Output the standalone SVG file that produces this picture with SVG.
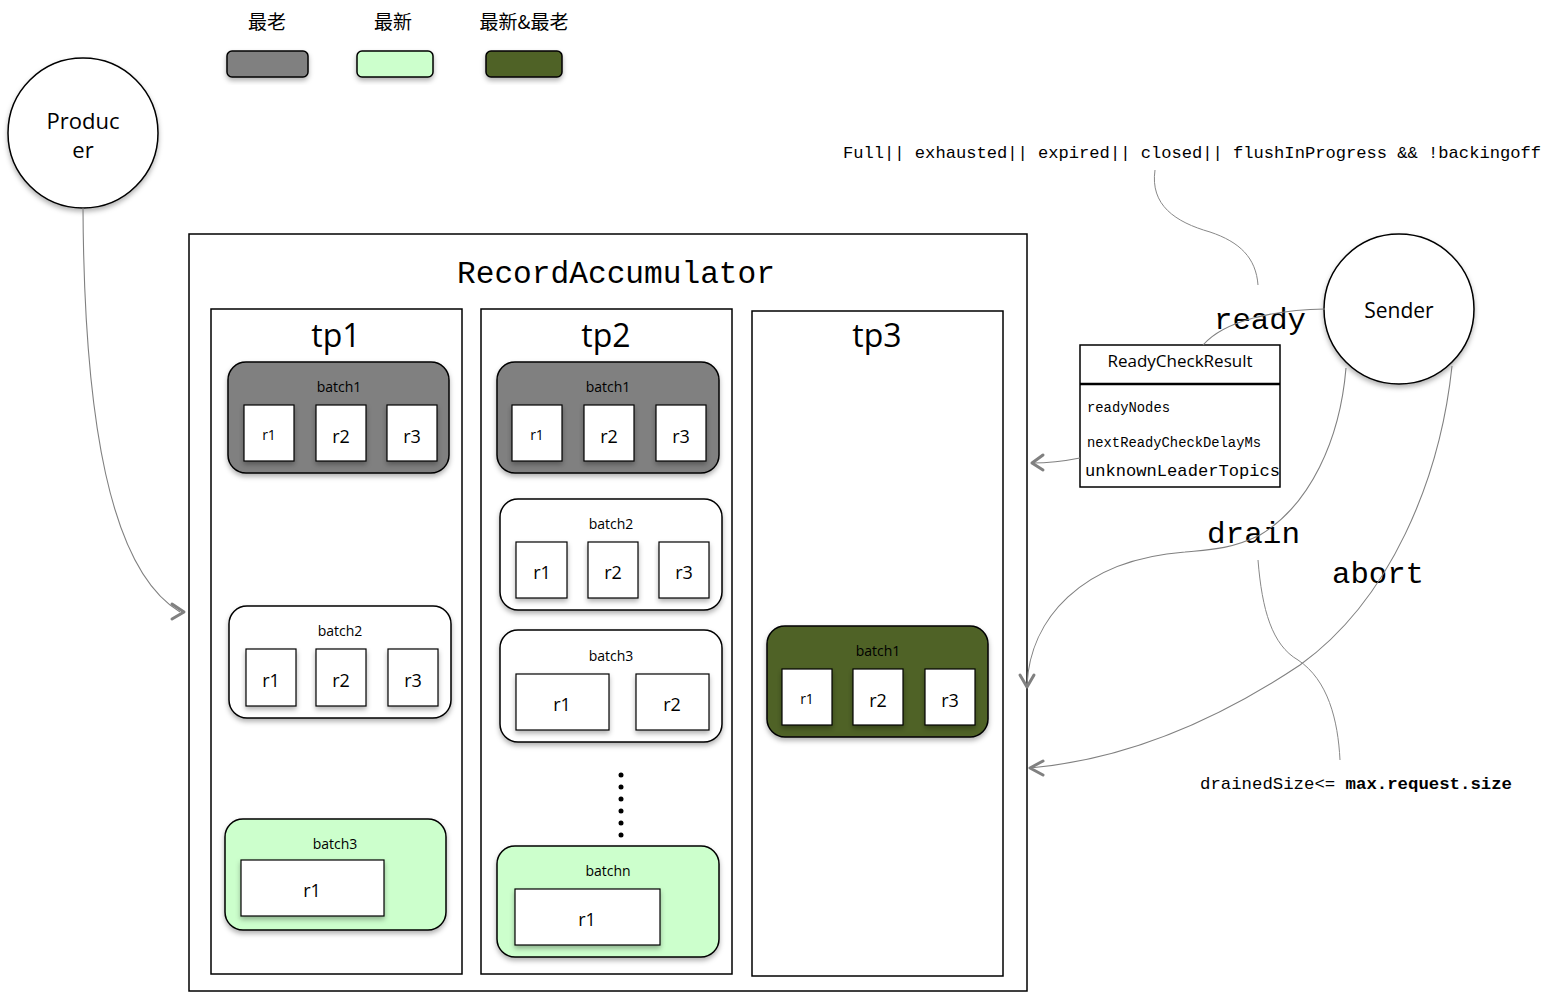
<svg xmlns="http://www.w3.org/2000/svg" width="1556" height="993" viewBox="0 0 1556 993">
<style>
.sans{font-family:"Open Sans","Noto Sans","Liberation Sans",sans-serif;fill:#000}
.mono{font-family:"Liberation Mono","DejaVu Sans Mono",monospace;fill:#000}
.cjk{font-family:"Noto Sans CJK SC","Noto Sans",sans-serif;fill:#000}
.box{stroke:#000;stroke-width:1.5}
.rec{fill:#fff;stroke:#000;stroke-width:1.2;filter:url(#sh)}
.batch{stroke:#000;stroke-width:1.5;filter:url(#sh)}
.conn{fill:none;stroke:#808080;stroke-width:1.1}
.arr{fill:none;stroke:#808080;stroke-width:3;stroke-linecap:round;stroke-linejoin:round}
.note{fill:none;stroke:#888;stroke-width:1}
</style>
<defs>
<filter id="sh" x="-10%" y="-10%" width="130%" height="140%">
<feDropShadow dx="0" dy="3" stdDeviation="2.5" flood-color="#000" flood-opacity="0.3"/>
</filter>
</defs>
<rect width="1556" height="993" fill="#fff"/>

<g id="legend">
<text class="cjk" x="267" y="29" font-size="19" text-anchor="middle">最老</text>
<text class="cjk" x="393" y="29" font-size="19" text-anchor="middle">最新</text>
<text class="cjk" x="524" y="29" font-size="19" text-anchor="middle">最新&amp;最老</text>
<rect class="batch" x="227" y="51" width="81" height="26" rx="5" fill="#808080"/>
<rect class="batch" x="357" y="51" width="76" height="26" rx="5" fill="#ccffcc"/>
<rect class="batch" x="486" y="51" width="76" height="26" rx="5" fill="#4f6228"/>
</g>

<g id="producer">
<circle cx="83" cy="133" r="75" fill="#fff" stroke="#000" stroke-width="1.5" filter="url(#sh)"/>
<text class="sans" x="83" y="129" font-size="22" text-anchor="middle">Produc</text>
<text class="sans" x="83" y="158" font-size="22" text-anchor="middle">er</text>
</g>

<g id="sender">
<circle cx="1399" cy="309" r="75" fill="#fff" stroke="#000" stroke-width="1.5" filter="url(#sh)"/>
<text class="sans" x="1399" y="318" font-size="21" text-anchor="middle">Sender</text>
</g>

<g id="accumulator">
<rect x="189" y="234" width="838" height="757" fill="#fff" class="box"/>
<text class="mono" x="457" y="283" font-size="31" textLength="318" lengthAdjust="spacingAndGlyphs">RecordAccumulator</text>
</g>

<g id="tp1">
<rect x="211" y="309" width="251" height="665" fill="#fff" class="box"/>
<text class="sans" x="336" y="347" font-size="32" text-anchor="middle">tp1</text>
</g>
<g id="tp2">
<rect x="481" y="309" width="251" height="665" fill="#fff" class="box"/>
<text class="sans" x="606" y="347" font-size="32" text-anchor="middle">tp2</text>
</g>
<g id="tp3">
<rect x="752" y="311" width="251" height="665" fill="#fff" class="box"/>
<text class="sans" x="877" y="347" font-size="32" text-anchor="middle">tp3</text>
</g>

<g id="tp1-batch1">
<rect class="batch" x="228" y="362" width="221" height="111" rx="18" fill="#808080"/>
<text class="sans" x="339" y="392" font-size="14" text-anchor="middle">batch1</text>
<rect class="rec" x="244" y="405" width="50" height="56"/>
<rect class="rec" x="316" y="405" width="50" height="56"/>
<rect class="rec" x="387" y="405" width="50" height="56"/>
<text class="sans" x="269" y="440" font-size="14" text-anchor="middle">r1</text>
<text class="sans" x="341" y="443" font-size="18" text-anchor="middle">r2</text>
<text class="sans" x="412" y="443" font-size="18" text-anchor="middle">r3</text>
</g>
<g id="tp1-batch2">
<rect class="batch" x="229" y="606" width="222" height="112" rx="18" fill="#fff"/>
<text class="sans" x="340" y="636" font-size="14" text-anchor="middle">batch2</text>
<rect class="rec" x="246" y="649" width="50" height="57"/>
<rect class="rec" x="316" y="649" width="50" height="57"/>
<rect class="rec" x="388" y="649" width="50" height="57"/>
<text class="sans" x="271" y="687" font-size="18" text-anchor="middle">r1</text>
<text class="sans" x="341" y="687" font-size="18" text-anchor="middle">r2</text>
<text class="sans" x="413" y="687" font-size="18" text-anchor="middle">r3</text>
</g>
<g id="tp1-batch3">
<rect class="batch" x="225" y="819" width="221" height="111" rx="18" fill="#ccffcc"/>
<text class="sans" x="335" y="849" font-size="14" text-anchor="middle">batch3</text>
<rect class="rec" x="241" y="860" width="143" height="56"/>
<text class="sans" x="312" y="897" font-size="18" text-anchor="middle">r1</text>
</g>

<g id="tp2-batch1">
<rect class="batch" x="497" y="362" width="222" height="111" rx="18" fill="#808080"/>
<text class="sans" x="608" y="392" font-size="14" text-anchor="middle">batch1</text>
<rect class="rec" x="512" y="405" width="50" height="56"/>
<rect class="rec" x="584" y="405" width="50" height="56"/>
<rect class="rec" x="656" y="405" width="50" height="56"/>
<text class="sans" x="537" y="440" font-size="14" text-anchor="middle">r1</text>
<text class="sans" x="609" y="443" font-size="18" text-anchor="middle">r2</text>
<text class="sans" x="681" y="443" font-size="18" text-anchor="middle">r3</text>
</g>
<g id="tp2-batch2">
<rect class="batch" x="500" y="499" width="222" height="111" rx="18" fill="#fff"/>
<text class="sans" x="611" y="529" font-size="14" text-anchor="middle">batch2</text>
<rect class="rec" x="516" y="542" width="51" height="56"/>
<rect class="rec" x="588" y="542" width="50" height="56"/>
<rect class="rec" x="659" y="542" width="50" height="56"/>
<text class="sans" x="542" y="579" font-size="18" text-anchor="middle">r1</text>
<text class="sans" x="613" y="579" font-size="18" text-anchor="middle">r2</text>
<text class="sans" x="684" y="579" font-size="18" text-anchor="middle">r3</text>
</g>
<g id="tp2-batch3">
<rect class="batch" x="500" y="630" width="222" height="112" rx="18" fill="#fff"/>
<text class="sans" x="611" y="661" font-size="14" text-anchor="middle">batch3</text>
<rect class="rec" x="516" y="674" width="93" height="56"/>
<rect class="rec" x="636" y="674" width="73" height="56"/>
<text class="sans" x="562" y="711" font-size="18" text-anchor="middle">r1</text>
<text class="sans" x="672" y="711" font-size="18" text-anchor="middle">r2</text>
</g>
<g id="tp2-dots" fill="#000">
<circle cx="621" cy="775" r="2.5"/>
<circle cx="621" cy="787" r="2.5"/>
<circle cx="621" cy="799" r="2.5"/>
<circle cx="621" cy="811" r="2.5"/>
<circle cx="621" cy="823" r="2.5"/>
<circle cx="621" cy="835" r="2.5"/>
</g>
<g id="tp2-batchn">
<rect class="batch" x="497" y="846" width="222" height="111" rx="18" fill="#ccffcc"/>
<text class="sans" x="608" y="876" font-size="14" text-anchor="middle">batchn</text>
<rect class="rec" x="515" y="889" width="145" height="56"/>
<text class="sans" x="587" y="926" font-size="18" text-anchor="middle">r1</text>
</g>

<g id="tp3-batch1">
<rect class="batch" x="767" y="626" width="221" height="111" rx="18" fill="#4f6228"/>
<text class="sans" x="878" y="656" font-size="14" text-anchor="middle">batch1</text>
<rect class="rec" x="782" y="669" width="50" height="56"/>
<rect class="rec" x="853" y="669" width="50" height="56"/>
<rect class="rec" x="925" y="669" width="50" height="56"/>
<text class="sans" x="807" y="704" font-size="14" text-anchor="middle">r1</text>
<text class="sans" x="878" y="707" font-size="18" text-anchor="middle">r2</text>
<text class="sans" x="950" y="707" font-size="18" text-anchor="middle">r3</text>
</g>

<g id="readycheckresult">
<rect x="1080" y="345" width="200" height="142" fill="#fff" stroke="#000" stroke-width="1.5"/>
<line x1="1080" y1="384" x2="1280" y2="384" stroke="#000" stroke-width="2.5"/>
<text class="sans" x="1180" y="367" font-size="17" text-anchor="middle">ReadyCheckResult</text>
<text class="mono" x="1087" y="412" font-size="14" textLength="83" lengthAdjust="spacingAndGlyphs">readyNodes</text>
<text class="mono" x="1087" y="447" font-size="14" textLength="174" lengthAdjust="spacingAndGlyphs">nextReadyCheckDelayMs</text>
<text class="mono" x="1085" y="476" font-size="17" textLength="195" lengthAdjust="spacingAndGlyphs">unknownLeaderTopics</text>
</g>

<g id="labels">
<text class="mono" x="843" y="158" font-size="16.4" textLength="698" lengthAdjust="spacingAndGlyphs">Full|| exhausted|| expired|| closed|| flushInProgress &amp;&amp; !backingoff</text>
<text class="mono" x="1214" y="329" font-size="30" textLength="92" lengthAdjust="spacingAndGlyphs">ready</text>
<text class="mono" x="1207" y="543" font-size="30" textLength="93" lengthAdjust="spacingAndGlyphs">drain</text>
<text class="mono" x="1332" y="583" font-size="30" textLength="92" lengthAdjust="spacingAndGlyphs">abort</text>
<text class="mono" x="1200" y="789" font-size="17" textLength="312" lengthAdjust="spacingAndGlyphs">drainedSize&lt;= <tspan font-weight="bold">max.request.size</tspan></text>
</g>

<g id="connectors">
<path class="conn" d="M83,208 C84,420 110,570 180,612"/>
<path class="arr" d="M172,604 L184,612 L172,619"/>
<path class="conn" d="M1325,309 C1275,310 1225,320 1203,345"/>
<path class="conn" d="M1080,458 C1060,462 1045,463 1032,463"/>
<path class="arr" d="M1043,455 L1032,463 L1043,470"/>
<path class="note" d="M1155,170 C1150,205 1175,222 1210,232 C1240,242 1256,258 1258,285"/>
<path class="conn" d="M1346,368 C1340,440 1310,505 1260,535 C1230,550 1205,550 1185,552 C1080,560 1030,620 1027,685"/>
<path class="arr" d="M1020,675 L1027,687 L1034,675"/>
<path class="conn" d="M1452,366 C1440,480 1390,600 1300,665 C1210,725 1120,760 1030,768"/>
<path class="arr" d="M1043,761 L1030,768 L1043,775"/>
<path class="note" d="M1258,560 C1262,610 1272,645 1298,660 C1328,680 1338,720 1340,760"/>
</g>
</svg>
